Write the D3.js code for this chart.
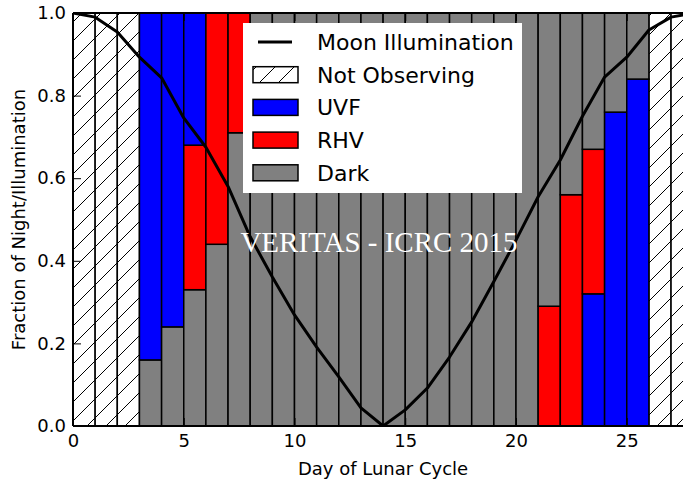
<!DOCTYPE html>
<html>
<head>
<meta charset="utf-8">
<script src="https://cdn.jsdelivr.net/npm/d3@7"></script>
<style>
  html, body { margin: 0; padding: 0; background: #fff; }
  svg { display: block; }
  text { font-family: "DejaVu Sans", sans-serif; }
</style>
</head>
<body>
<svg id="chart" width="683" height="484"></svg>
<script>
// ---------------- data ----------------
const days = [0,1,2,3,4,5,6,7,8,9,10,11,12,13,14,15,16,17,18,19,20,21,22,23,24,25,26,27];
const notObservingDays = [0,1,2,26,27];
const darkValues = [0,0,0,0.16,0.24,0.33,0.44,0.71,1,1,1,1,1,1,1,1,1,1,1,1,1,0.71,0.44,0.33,0.24,0.16,0,0];
const rhvValues  = [0,0,0,0,0,0.35,0.56,0.29,0,0,0,0,0,0,0,0,0,0,0,0,0,0.29,0.56,0.35,0,0,0,0];
const uvfValues  = [0,0,0,0.84,0.76,0.32,0,0,0,0,0,0,0,0,0,0,0,0,0,0,0,0,0,0.32,0.76,0.84,0,0];
const waxingOrder = ["Dark","RHV","UVF"];   // bottom -> top, before full dark
const waningOrder = ["UVF","RHV","Dark"];   // bottom -> top, after new moon
const moonDays = [0,1,2,3,4,5,6,7,8,9,10,11,12,13,14,15,16,17,18,19,20,21,22,23,24,25,26,27,28];
const moonIllumination = [1.0,0.99,0.954,0.893,0.843,0.746,0.675,0.58,0.458,0.361,0.269,0.191,0.119,0.044,0.0,0.039,0.092,0.167,0.252,0.35,0.45,0.555,0.644,0.75,0.845,0.893,0.959,0.99,1.0];
const xTicks = [0,5,10,15,20,25];
const yTicks = [0.0,0.2,0.4,0.6,0.8,1.0];
const legendLabels = ["Moon Illumination","Not Observing","UVF","RHV","Dark"];
const xLabel = "Day of Lunar Cycle";
const yLabel = "Fraction of Night/Illumination";
const watermark = "VERITAS - ICRC 2015";

// ---------------- layout ----------------
const svg = d3.select("#chart");
const pL = 73, pT = 13, pB = 426, pR = 73 + 28 * 22.15;
const x = d3.scaleLinear().domain([0, 28]).range([pL, pR]);
const y = d3.scaleLinear().domain([0, 1]).range([pB, pT]);
const colors = { Dark: "#808080", RHV: "#ff0000", UVF: "#0000ff" };
const seriesValues = { Dark: darkValues, RHV: rhvValues, UVF: uvfValues };

// hatch pattern
const hs = 19;
const defs = svg.append("defs");
const pat = defs.append("pattern").attr("id", "hatch").attr("patternUnits", "userSpaceOnUse")
  .attr("width", hs).attr("height", hs);
pat.append("rect").attr("width", hs).attr("height", hs).attr("fill", "#fff");
pat.append("path").attr("d", `M0,${hs} L${hs},0 M${-hs/2},${hs/2} L${hs/2},${-hs/2} M${hs/2},${hs*1.5} L${hs*1.5},${hs/2}`)
  .attr("stroke", "#000").attr("stroke-width", 1);
defs.append("clipPath").attr("id", "clip").append("rect")
  .attr("x", pL).attr("y", pT).attr("width", pR - pL).attr("height", pB - pT);

const plot = svg.append("g").attr("clip-path", "url(#clip)");

// not observing bars
plot.selectAll("rect.no").data(notObservingDays).enter().append("rect")
  .attr("class", "no")
  .attr("x", d => x(d)).attr("width", d => x(d + 1) - x(d))
  .attr("y", y(1)).attr("height", y(0) - y(1))
  .attr("fill", "url(#hatch)").attr("stroke", "#000").attr("stroke-width", 1.5);

// stacked bars
const segs = [];
days.forEach((d, i) => {
  const order = d < 14 ? waxingOrder : waningOrder;
  let base = 0;
  order.forEach(k => {
    const v = seriesValues[k][i];
    if (v > 0) { segs.push({ day: d, key: k, y0: base, y1: base + v }); base += v; }
  });
});
plot.selectAll("rect.seg").data(segs).enter().append("rect")
  .attr("class", "seg")
  .attr("x", d => x(d.day)).attr("width", d => x(d.day + 1) - x(d.day))
  .attr("y", d => y(Math.min(d.y1, 1))).attr("height", d => y(d.y0) - y(Math.min(d.y1, 1)))
  .attr("fill", d => colors[d.key]).attr("stroke", "#000").attr("stroke-width", 1.5);

// moon line
plot.append("path")
  .datum(moonDays.map((d, i) => [d, moonIllumination[i]]))
  .attr("d", d3.line().x(d => x(d[0])).y(d => y(d[1])))
  .attr("fill", "none").attr("stroke", "#000").attr("stroke-width", 3).attr("stroke-linejoin", "round");

// watermark
svg.append("text").attr("x", 379).attr("y", 252).attr("text-anchor", "middle")
  .style("font-family", "'Liberation Serif', 'DejaVu Serif', serif").style("font-size", "29px")
  .attr("fill", "#fff").text(watermark);

// axes
const xAxis = d3.axisBottom(x).tickValues(xTicks).tickSizeInner(-8).tickSizeOuter(0).tickPadding(8);
const gx = svg.append("g").attr("transform", `translate(0,${pB})`).call(xAxis);
const yAxis = d3.axisLeft(y).tickValues(yTicks).tickFormat(d3.format(".1f")).tickSizeInner(-8).tickSizeOuter(0).tickPadding(7);
const gy = svg.append("g").attr("transform", `translate(${pL},0)`).call(yAxis);
const gxt = svg.append("g").attr("transform", `translate(0,${pT})`)
  .call(d3.axisTop(x).tickValues(xTicks).tickSizeInner(-8).tickSizeOuter(0).tickFormat(""));
[gx, gy, gxt].forEach(g => {
  g.select(".domain").remove();
  g.selectAll("line").attr("stroke", "#000").attr("stroke-width", 1);
  g.selectAll("text").attr("fill", "#000").style("font-size", "18px").style("font-family", "'DejaVu Sans', sans-serif");
});
// spines
svg.append("line").attr("x1", pL).attr("x2", pL).attr("y1", pT).attr("y2", pB).attr("stroke", "#000").attr("stroke-width", 2);
svg.append("line").attr("x1", pL).attr("x2", pR).attr("y1", pB).attr("y2", pB).attr("stroke", "#000").attr("stroke-width", 2);
svg.append("line").attr("x1", pL).attr("x2", pR).attr("y1", pT).attr("y2", pT).attr("stroke", "#000").attr("stroke-width", 2);

// axis labels
svg.append("text").attr("x", 383).attr("y", 475).attr("text-anchor", "middle")
  .style("font-size", "18px").attr("fill", "#000").text(xLabel);
svg.append("text").attr("transform", `translate(25,${(pT + pB) / 2}) rotate(-90)`)
  .attr("text-anchor", "middle").style("font-size", "18px").attr("fill", "#000").text(yLabel);

// legend
const lg = svg.append("g");
lg.append("rect").attr("x", 243).attr("y", 23).attr("width", 279).attr("height", 170).attr("fill", "#fff");
const rowY = i => 42 + i * 32.7;
legendLabels.forEach((lab, i) => {
  const cy = rowY(i);
  if (i === 0) {
    lg.append("line").attr("x1", 258).attr("x2", 292).attr("y1", cy).attr("y2", cy)
      .attr("stroke", "#000").attr("stroke-width", 3);
  } else {
    const fill = i === 1 ? "url(#hatch)" : colors[lab];
    lg.append("rect").attr("x", 253).attr("y", cy - 8).attr("width", 45).attr("height", 16)
      .attr("fill", fill).attr("stroke", "#000").attr("stroke-width", 1.5);
  }
  lg.append("text").attr("x", 317).attr("y", cy + 8).style("font-size", "22px").attr("fill", "#000").text(lab);
});
</script>
</body>
</html>
